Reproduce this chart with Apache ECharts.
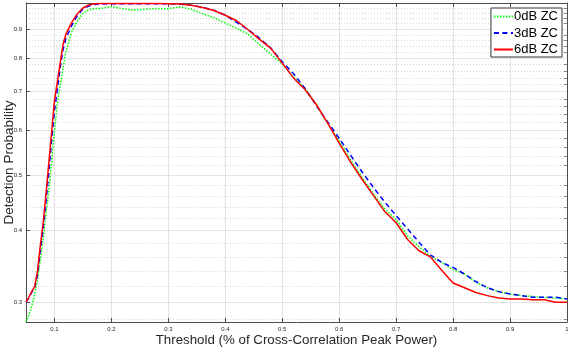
<!DOCTYPE html>
<html>
<head>
<meta charset="utf-8">
<script src="https://cdn.jsdelivr.net/npm/echarts@6/dist/echarts.min.js"></script>
<style>
  html, body { margin: 0; padding: 0; background: #fff; }
  #chart { width: 568px; height: 348px; }
</style>
</head>
<body>
<div id="chart"></div>
<script>
// threshold (fraction of cross-correlation peak power)
const thresholds = [
  0.05, 0.055, 0.06, 0.065, 0.07, 0.075, 0.08, 0.085, 0.09, 0.095, 0.10, 0.105, 0.11, 0.115, 0.12,
  0.13, 0.14, 0.15, 0.16, 0.17, 0.18,
  0.20, 0.22, 0.24, 0.26, 0.28, 0.30, 0.32, 0.34, 0.36, 0.38, 0.40, 0.42, 0.44, 0.46, 0.48,
  0.50, 0.52, 0.54, 0.56, 0.58, 0.60, 0.62, 0.64, 0.66, 0.68, 0.70, 0.72, 0.74, 0.76, 0.78,
  0.80, 0.82, 0.84, 0.86, 0.88, 0.90, 0.92, 0.94, 0.96, 0.98, 1.00
];
const zc0dB = [
  0.277, 0.285, 0.295, 0.309, 0.328, 0.354, 0.387, 0.426, 0.468, 0.528, 0.598, 0.667, 0.716, 0.768, 0.821,
  0.889, 0.929, 0.959, 0.973, 0.978, 0.978,
  0.986, 0.977, 0.972, 0.975, 0.978, 0.977, 0.985, 0.975, 0.958, 0.942, 0.922, 0.903, 0.882, 0.846, 0.813,
  0.783, 0.742, 0.709, 0.664, 0.616, 0.574, 0.532, 0.496, 0.464, 0.437, 0.418, 0.392, 0.375, 0.361, 0.352,
  0.342, 0.336, 0.325, 0.318, 0.313, 0.310, 0.308, 0.307, 0.306, 0.305, 0.304
];
const zc3dB = [
  0.300, 0.305, 0.312, 0.318, 0.334, 0.368, 0.402, 0.448, 0.505, 0.575, 0.648, 0.705, 0.770, 0.828, 0.866,
  0.912, 0.950, 0.976, 0.988, 0.994, 0.996,
  0.997, 0.997, 0.997, 0.997, 0.997, 0.997, 0.995, 0.991, 0.983, 0.971, 0.952, 0.925, 0.898, 0.868, 0.834,
  0.789, 0.752, 0.709, 0.661, 0.619, 0.580, 0.542, 0.507, 0.476, 0.449, 0.425, 0.403, 0.382, 0.363, 0.352,
  0.345, 0.336, 0.326, 0.318, 0.313, 0.310, 0.308, 0.306, 0.306, 0.306, 0.304
];
const zc6dB = [
  0.300, 0.306, 0.313, 0.319, 0.339, 0.376, 0.412, 0.462, 0.525, 0.595, 0.676, 0.727, 0.785, 0.846, 0.882,
  0.924, 0.957, 0.980, 0.992, 0.997, 0.998,
  0.998, 0.998, 0.998, 0.998, 0.998, 0.997, 0.996, 0.991, 0.982, 0.970, 0.952, 0.931, 0.898, 0.864, 0.833,
  0.785, 0.739, 0.706, 0.664, 0.616, 0.569, 0.527, 0.492, 0.461, 0.432, 0.413, 0.386, 0.369, 0.360, 0.341,
  0.324, 0.318, 0.312, 0.308, 0.305, 0.304, 0.304, 0.303, 0.303, 0.300, 0.300
];

const xTicks = [0.1, 0.2, 0.3, 0.4, 0.5, 0.6, 0.7, 0.8, 0.9, 1];
const yTicks = [0.3, 0.4, 0.5, 0.6, 0.7, 0.8, 0.9];
const yMinorTicks = [0.28, 0.32, 0.34, 0.36, 0.38, 0.42, 0.44, 0.46, 0.48, 0.52, 0.54, 0.56, 0.58,
  0.62, 0.64, 0.66, 0.68, 0.72, 0.74, 0.76, 0.78, 0.82, 0.84, 0.86, 0.88, 0.92, 0.94, 0.96, 0.98];

const axisColor = '#4d4d4d';
const font = 'Liberation Sans';

const pairs = (ys) => thresholds.map((t, i) => [t, ys[i]]);

const chart = echarts.init(document.getElementById('chart'));
chart.setOption({
  animation: false,
  textStyle: { fontFamily: font },
  grid: { left: 26, right: 1, top: 3, bottom: 26, containLabel: false, outerBoundsMode: 'none' },
  legend: {
    orient: 'vertical',
    right: 6, top: 8,
    itemWidth: 19, itemHeight: 8, itemGap: 3.5,
    padding: [2, 4, 1, 2],
    backgroundColor: '#fff',
    borderColor: '#333', borderWidth: 1, borderRadius: 0,
    itemStyle: { opacity: 0 },
    textStyle: { fontFamily: font, fontSize: 13, color: '#000', padding: [0, 0, 0, -4] },
    data: ['0dB ZC', '3dB ZC', '6dB ZC']
  },
  xAxis: [{
    type: 'value', position: 'bottom', min: 0.05, max: 1,
    name: 'Threshold (% of Cross-Correlation Peak Power)',
    nameLocation: 'middle', nameGap: 12, nameMoveOverlap: false,
    nameTextStyle: { fontFamily: font, fontSize: 13.3, color: '#262626' },
    axisLine: { show: true, onZero: false, lineStyle: { color: axisColor, width: 1 } },
    axisTick: { inside: true, length: 4, customValues: xTicks, lineStyle: { color: axisColor } },
    axisLabel: { customValues: xTicks, fontSize: 6, color: '#262626', margin: 4,
      formatter: v => (Math.round(v * 10) / 10).toString() },
    splitLine: { show: true, lineStyle: { color: '#e3e3e3', width: 1 } }
  }, {
    type: 'value', position: 'top', min: 0.05, max: 1,
    axisLine: { show: true, onZero: false, lineStyle: { color: axisColor, width: 1 } },
    axisTick: { inside: true, length: 4, customValues: xTicks, lineStyle: { color: axisColor } },
    axisLabel: { show: false },
    splitLine: { show: false }
  }],
  yAxis: [{
    type: 'log', logBase: 10, position: 'left', min: 0.277, max: 1,
    name: 'Detection Probability',
    nameLocation: 'middle', nameGap: 10, nameMoveOverlap: false,
    nameTextStyle: { fontFamily: font, fontSize: 13.5, color: '#262626' },
    axisLine: { show: true, onZero: false, lineStyle: { color: axisColor, width: 1 } },
    axisTick: { inside: true, length: 4, customValues: yTicks, lineStyle: { color: axisColor } },
    axisLabel: { customValues: yTicks, fontSize: 6, color: '#262626', margin: 4,
      formatter: v => v.toFixed(1) },
    splitLine: { show: true, lineStyle: { color: '#e3e3e3', width: 1 } }
  }, {
    type: 'log', logBase: 10, position: 'right', min: 0.277, max: 1,
    axisLine: { show: true, onZero: false, lineStyle: { color: axisColor, width: 1 } },
    axisTick: { inside: true, length: 3, customValues: yMinorTicks, lineStyle: { color: '#888' } },
    axisLabel: { show: false },
    splitLine: { show: true, lineStyle: { color: '#d6d6d6', width: 1, type: [1, 2] } }
  }],
  series: [{
    name: '0dB ZC', type: 'line', data: pairs(zc0dB), symbol: 'none',
    lineStyle: { color: '#00ff00', width: 1.5, type: [1.5, 1.5] }, itemStyle: { color: '#00ff00' }
  }, {
    name: '3dB ZC', type: 'line', data: pairs(zc3dB), symbol: 'none',
    lineStyle: { color: '#0000ff', width: 1.5, type: [5, 3.5] }, itemStyle: { color: '#0000ff' }
  }, {
    name: '6dB ZC', type: 'line', data: pairs(zc6dB), symbol: 'none',
    lineStyle: { color: '#ff0000', width: 1.5 }, itemStyle: { color: '#ff0000' }
  }]
});
</script>
</body>
</html>
